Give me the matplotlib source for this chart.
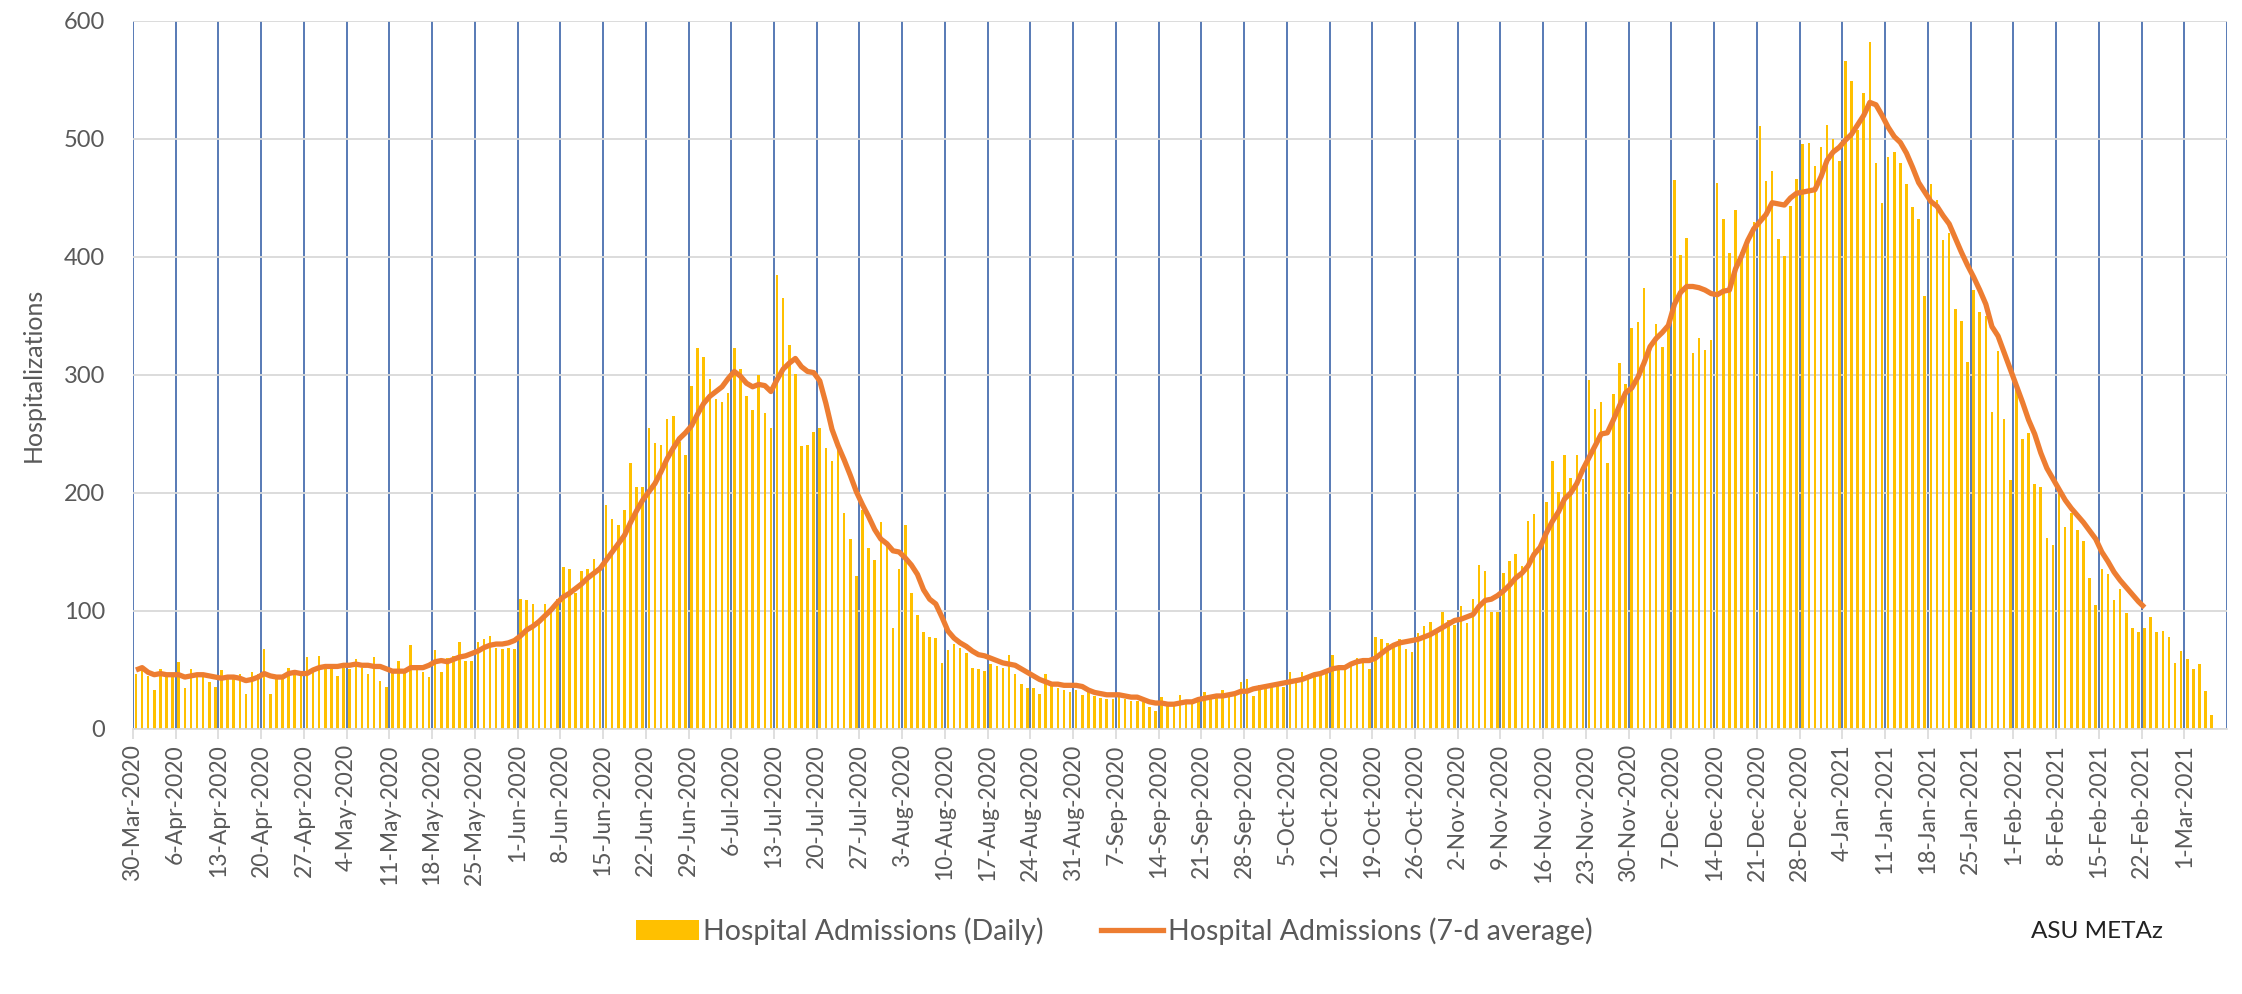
import matplotlib
matplotlib.use("Agg")
import matplotlib.pyplot as plt
from matplotlib.patches import Patch
from matplotlib.lines import Line2D
import numpy as np

plt.rcParams['font.family'] = ['Lato', 'DejaVu Sans']

# Daily hospital admissions, 30-Mar-2020 .. 5-Mar-2021
daily_admissions = [
    47, 51, 45, 33, 51, 47, 47,
    57, 35, 51, 47, 47, 40, 36,
    50, 45, 45, 47, 30, 48, 47,
    68, 30, 45, 45, 52, 48, 48,
    61, 50, 62, 52, 52, 45, 52,
    51, 59, 52, 47, 61, 41, 36,
    48, 58, 50, 71, 52, 48, 44,
    67, 48, 60, 62, 74, 58, 58,
    74, 76, 79, 69, 68, 69, 68,
    110, 109, 106, 93, 106, 99, 110,
    137, 136, 115, 134, 136, 144, 134,
    190, 178, 173, 186, 225, 205, 205,
    255, 242, 241, 263, 265, 243, 232,
    291, 323, 315, 297, 280, 277, 285,
    323, 305, 282, 270, 300, 268, 255,
    385, 365, 325, 301, 240, 241, 252,
    255, 238, 227, 237, 183, 161, 130,
    186, 153, 143, 175, 157, 86, 136,
    173, 115, 97, 82, 78, 77, 56,
    67, 72, 69, 64, 52, 51, 49,
    55, 53, 52, 63, 47, 38, 35,
    35, 30, 47, 40, 35, 33, 31,
    33, 29, 31, 28, 26, 25, 25,
    28, 25, 24, 24, 23, 19, 15,
    27, 22, 23, 29, 23, 23, 25,
    31, 26, 26, 33, 27, 30, 40,
    42, 28, 37, 37, 38, 37, 36,
    48, 42, 48, 45, 44, 47, 48,
    63, 52, 52, 56, 60, 60, 51,
    78, 76, 73, 73, 76, 68, 65,
    81, 87, 91, 83, 99, 92, 88,
    104, 90, 110, 139, 134, 99, 99,
    132, 142, 148, 138, 176, 182, 156,
    192, 227, 201, 232, 213, 232, 212,
    296, 271, 277, 225, 284, 310, 292,
    340, 345, 374, 326, 343, 324, 341,
    465, 402, 416, 319, 331, 321, 330,
    463, 432, 403, 440, 404, 410, 430,
    511, 464, 473, 415, 401, 443, 466,
    496, 497, 477, 493, 512, 500, 481,
    566, 549, 508, 539, 582, 480, 446,
    485, 489, 480, 462, 442, 432, 367,
    462, 448, 414, 420, 356, 346, 311,
    372, 353, 350, 269, 320, 263, 211,
    293, 246, 251, 208, 205, 162, 156,
    200, 171, 183, 169, 159, 128, 105,
    136, 131, 109, 119, 98, 86, 82,
    86, 95, 82, 83, 78, 56, 66,
    59, 51, 55, 32, 12,
]

# 7-day average, 30-Mar-2020 .. 22-Feb-2021
avg_7d = [
    50, 52, 48, 46, 47, 46, 46,
    46, 44, 45, 46, 46, 45, 44,
    43, 44, 44, 43, 41, 42, 44,
    47, 45, 44, 44, 47, 48, 47,
    47, 50, 52, 53, 53, 53, 54,
    54, 55, 54, 54, 53, 53, 51,
    49, 49, 49, 52, 52, 52, 54,
    57, 58, 57, 59, 61, 62, 64,
    66, 69, 71, 72, 72, 73, 75,
    79, 84, 87, 91, 96, 101, 107,
    112, 115, 119, 123, 128, 132, 136,
    143, 150, 157, 164, 175, 185, 194,
    201, 208, 218, 229, 238, 246, 251,
    257, 267, 276, 282, 286, 290, 297,
    303, 299, 293, 290, 292, 291, 286,
    296, 305, 310, 314, 307, 303, 302,
    295, 276, 254, 240, 228, 215, 201,
    190, 180, 169, 161, 157, 151, 150,
    145, 139, 131, 118, 110, 106, 95,
    83, 77, 73, 70, 66, 63, 62,
    60, 58, 56, 55, 54, 51, 48,
    45, 42, 40, 38, 38, 37, 37,
    37, 36, 33, 31, 30, 29, 29,
    29, 28, 27, 27, 25, 23, 22,
    22, 21, 21, 22, 23, 23, 25,
    26, 27, 28, 28, 29, 30, 32,
    32, 34, 35, 36, 37, 38, 39,
    40, 41, 42, 44, 46, 47, 49,
    51, 52, 52, 55, 57, 58, 58,
    60, 64, 68, 71, 73, 74, 75,
    76, 78, 80, 83, 86, 89, 92,
    93, 95, 97, 104, 109, 110, 113,
    117, 122, 128, 132, 138, 148, 154,
    166, 176, 184, 195, 200, 208, 220,
    230, 240, 250, 251, 262, 274, 285,
    289, 298, 310, 324, 331, 336, 342,
    360, 370, 375, 375, 374, 372, 369,
    368, 371, 372, 390, 401, 414, 424,
    430, 436, 446, 445, 444, 450, 454,
    455, 456, 457, 468, 482, 489, 493,
    499, 504, 512, 520, 531, 529, 520,
    510, 502, 497, 488, 476, 463, 455,
    447, 443, 435, 428, 416, 404, 393,
    383, 372, 360, 341, 333, 319, 305,
    291, 277, 262, 250, 234, 221, 212,
    203, 194, 187, 181, 175, 168, 161,
    150, 142, 133, 126, 120, 114, 108,
    103,
]

week_labels = [
    "30-Mar-2020", "6-Apr-2020", "13-Apr-2020", "20-Apr-2020", "27-Apr-2020",
    "4-May-2020", "11-May-2020", "18-May-2020", "25-May-2020", "1-Jun-2020",
    "8-Jun-2020", "15-Jun-2020", "22-Jun-2020", "29-Jun-2020", "6-Jul-2020",
    "13-Jul-2020", "20-Jul-2020", "27-Jul-2020", "3-Aug-2020", "10-Aug-2020",
    "17-Aug-2020", "24-Aug-2020", "31-Aug-2020", "7-Sep-2020", "14-Sep-2020",
    "21-Sep-2020", "28-Sep-2020", "5-Oct-2020", "12-Oct-2020", "19-Oct-2020",
    "26-Oct-2020", "2-Nov-2020", "9-Nov-2020", "16-Nov-2020", "23-Nov-2020",
    "30-Nov-2020", "7-Dec-2020", "14-Dec-2020", "21-Dec-2020", "28-Dec-2020",
    "4-Jan-2021", "11-Jan-2021", "18-Jan-2021", "25-Jan-2021", "1-Feb-2021",
    "8-Feb-2021", "15-Feb-2021", "22-Feb-2021", "1-Mar-2021",
]
n_days = 343  # 30-Mar-2020 .. 7-Mar-2021

BAR = '#FFC000'
LINE = '#ED7D31'
GRIDV = '#4A70B0'
TXT = '#595959'

fig = plt.figure(figsize=(22.42, 9.94), dpi=100)
ax = fig.add_axes([0.0593, 0.2666, 0.934, 0.7123])

x_bar = np.arange(len(daily_admissions)) + 0.5
x_line = np.arange(len(avg_7d)) + 0.5

ax.set_xlim(0, n_days)
ax.set_ylim(0, 600)

ax.set_axisbelow(True)
ax.yaxis.grid(True, color='#D9D9D9', lw=1.3)
week_pos = np.arange(0, n_days + 1, 7)
for xv in week_pos:
    ax.axvline(xv, color=GRIDV, lw=1.3, zorder=0.5)

ax.bar(x_bar, daily_admissions, width=0.42, color=BAR, zorder=2, linewidth=0)
ax.plot(x_line, avg_7d, color=LINE, lw=3.8, zorder=3, solid_capstyle='butt',
        solid_joinstyle='round')

ax.set_yticks(np.arange(0, 601, 100))
ax.tick_params(axis='y', length=0, labelsize=17, labelcolor=TXT, pad=20)
ax.set_xticks(week_pos[:len(week_labels)])
ax.set_xticklabels(week_labels, rotation=90, fontsize=16.5, color=TXT)
ax.tick_params(axis='x', length=7, color='#D9D9D9', width=1.2, pad=4)

for s in ['top', 'right', 'left']:
    ax.spines[s].set_visible(False)
ax.spines['bottom'].set_color('#D9D9D9')
ax.spines['bottom'].set_linewidth(1.2)

ax.set_ylabel('Hospitalizations', fontsize=18, color=TXT, labelpad=14)

handles = [Patch(facecolor=BAR, edgecolor='none'),
           Line2D([0], [0], color=LINE, lw=3.8)]
fig.legend(handles, ['Hospital Admissions (Daily)', 'Hospital Admissions (7-d average)'],
           loc='center', bbox_to_anchor=(0.497, 0.063), ncol=2, frameon=False,
           fontsize=20.5, labelcolor=TXT, handlelength=2.2, handletextpad=0.15,
           columnspacing=2.0)
fig.text(0.906, 0.063, 'ASU METAz', fontsize=17.5, color='#222222', va='center', ha='left')

fig.savefig('out.png', dpi=100)
